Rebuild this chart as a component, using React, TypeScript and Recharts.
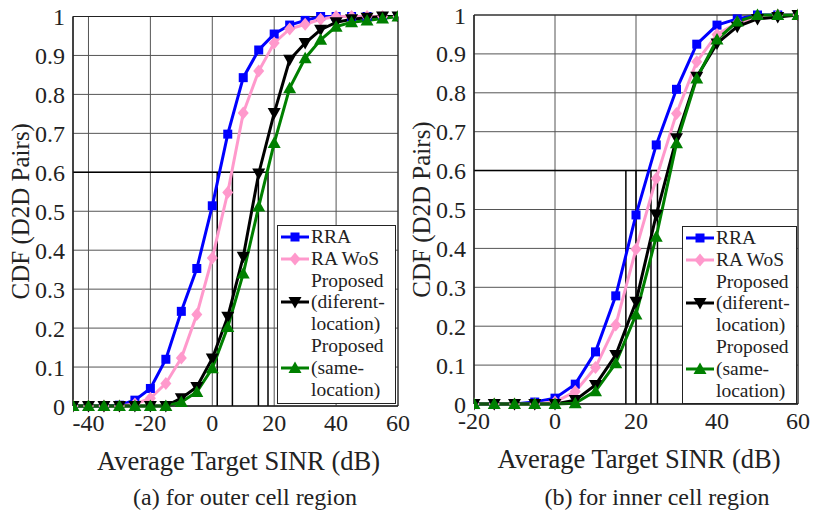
import { LineChart, Line, XAxis, YAxis, CartesianGrid, ReferenceLine, ReferenceArea, Legend } from "recharts";

// SINR sample points (dB)
const sinrOuter = [-45, -40, -35, -30, -25, -20, -15, -10, -5, 0, 5, 10, 15, 20, 25, 30, 35, 40, 45, 50, 55, 60];
const sinrInner = [-20, -15, -10, -5, 0, 5, 10, 15, 20, 25, 30, 35, 40, 45, 50, 55, 60];

// CDF values, outer cell region
const rraOuter = [0, 0, 0, 0.002, 0.015, 0.045, 0.12, 0.243, 0.353, 0.514, 0.698, 0.843, 0.914, 0.955, 0.978, 0.99, 1, 1, 1, 1, 1, 1];
const wosOuter = [0, 0, 0, 0, 0.005, 0.02, 0.058, 0.123, 0.235, 0.38, 0.548, 0.752, 0.86, 0.932, 0.968, 0.98, 0.993, 1, 1, 1, 1, 1];
const diffOuter = [0, 0, 0, 0, 0, 0, 0, 0.02, 0.049, 0.122, 0.229, 0.383, 0.597, 0.752, 0.889, 0.932, 0.966, 0.985, 0.993, 0.997, 1, 1];
const sameOuter = [0, 0, 0, 0, 0, 0, 0, 0.01, 0.036, 0.097, 0.203, 0.34, 0.512, 0.675, 0.816, 0.893, 0.94, 0.974, 0.985, 0.99, 0.995, 1];

// CDF values, inner cell region
const rraInner = [0, 0, 0, 0.005, 0.015, 0.051, 0.134, 0.278, 0.486, 0.666, 0.809, 0.925, 0.974, 0.99, 1, 1, 1];
const wosInner = [0, 0, 0, 0, 0.005, 0.032, 0.094, 0.203, 0.398, 0.58, 0.747, 0.88, 0.95, 0.98, 0.995, 1, 1];
const diffInner = [0, 0, 0, 0, 0, 0.01, 0.049, 0.126, 0.263, 0.486, 0.683, 0.841, 0.927, 0.97, 0.99, 0.995, 1];
const sameInner = [0, 0, 0, 0, 0, 0.002, 0.033, 0.105, 0.23, 0.43, 0.67, 0.837, 0.937, 0.983, 1, 1, 1];

// where each curve reaches the 0.6 level
const cdfLevel = 0.6;
const crossOuter = [1.6, 6.5, 14.9, 18.0];
const crossInner = [17.5, 20.0, 23.7, 25.3];

const cdfTicks = [0, 0.1, 0.2, 0.3, 0.4, 0.5, 0.6, 0.7, 0.8, 0.9, 1];
const ticksOuter = [-40, -20, 0, 20, 40, 60];
const ticksInner = [-20, 0, 20, 40, 60];

type Shape = "square" | "diamond" | "down" | "up";

const series: { key: string; label: string[]; color: string; shape: Shape }[] = [
  { key: "rra", label: ["RRA"], color: "#0000ff", shape: "square" },
  { key: "wos", label: ["RA WoS"], color: "#ff99cc", shape: "diamond" },
  { key: "diff", label: ["Proposed", "(diferent-", "location)"], color: "#000000", shape: "down" },
  { key: "same", label: ["Proposed", "(same-", "location)"], color: "#008000", shape: "up" },
];

const FONT = "'Liberation Serif', 'Times New Roman', serif";
const TEXT = "#222";

function Marker({ shape, cx, cy, color }: { shape: Shape; cx: number; cy: number; color: string }) {
  if (cx == null || cy == null) return null;
  switch (shape) {
    case "square":
      return <rect x={cx - 4.5} y={cy - 4.5} width={9} height={9} fill={color} />;
    case "diamond":
      return <polygon points={`${cx},${cy - 6.5} ${cx + 5.5},${cy} ${cx},${cy + 6.5} ${cx - 5.5},${cy}`} fill={color} />;
    case "down":
      return <polygon points={`${cx - 6.5},${cy - 5} ${cx + 6.5},${cy - 5} ${cx},${cy + 6.5}`} fill={color} />;
    default:
      return <polygon points={`${cx - 6.5},${cy + 5} ${cx + 6.5},${cy + 5} ${cx},${cy - 6.5}`} fill={color} />;
  }
}

function buildRows(x: number[], rra: number[], wos: number[], diff: number[], same: number[]) {
  return x.map((v, i) => ({ x: v, rra: rra[i], wos: wos[i], diff: diff[i], same: same[i] }));
}

function LegendBox() {
  return (
    <div
      style={{
        border: "1px solid #222",
        background: "#fff",
        boxSizing: "border-box",
        width: "100%",
        height: "100%",
        fontFamily: FONT,
        fontSize: 19.5,
        lineHeight: "21.8px",
        color: TEXT,
      }}
    >
      {series.map((s) =>
        s.label.map((line, i) => {
          const withMark = s.label.length === 1 ? i === 0 : i === 1;
          return (
            <div key={s.key + i} style={{ display: "flex", alignItems: "center", height: 21.8, whiteSpace: "nowrap" }}>
              <svg width={33} height={16} style={{ flex: "none" }}>
                {withMark && (
                  <>
                    <line x1={3} x2={31} y1={8} y2={8} stroke={s.color} strokeWidth={3} />
                    <Marker shape={s.shape} cx={17} cy={8} color={s.color} />
                  </>
                )}
              </svg>
              <span>{line}</span>
            </div>
          );
        })
      )}
    </div>
  );
}

function CdfPanel({
  rows,
  domain,
  ticks,
  cross,
  margin,
  legendPos,
}: {
  rows: Record<string, number>[];
  domain: [number, number];
  ticks: number[];
  cross: number[];
  margin: { top: number; right: number; bottom: number; left: number };
  legendPos: { left: number; top: number; width: number; height: number };
}) {
  const tickStyle = { fontSize: 24, fill: TEXT, fontFamily: FONT };
  return (
    <LineChart width={410} height={514} data={rows} margin={margin}>
      <CartesianGrid stroke="#555" strokeWidth={1} />
      <ReferenceArea x1={domain[0]} x2={domain[1]} y1={0} y2={1} fill="none" fillOpacity={0} stroke="#222" strokeWidth={1} />
      <XAxis
        type="number"
        dataKey="x"
        domain={domain}
        ticks={ticks}
        interval={0}
        allowDataOverflow
        tickLine={false}
        axisLine={{ stroke: "#222" }}
        tick={tickStyle}
        height={40}
        label={{ value: "Average Target SINR (dB)", position: "bottom", offset: 5, dx: 3, style: { fontSize: 26.5, fill: TEXT, fontFamily: FONT } }}
      />
      <YAxis
        type="number"
        domain={[0, 1]}
        ticks={cdfTicks}
        interval={0}
        width={73}
        tickLine={false}
        axisLine={{ stroke: "#222" }}
        tick={tickStyle}
        tickFormatter={(v: number) => (v === 0 || v === 1 ? String(v) : v.toFixed(1))}
        label={{
          value: "CDF (D2D Pairs)",
          angle: -90,
          position: "insideLeft",
          offset: 20,
          style: { fontSize: 25, fill: TEXT, fontFamily: FONT, textAnchor: "middle" },
        }}
      />
      <ReferenceLine
        segment={[
          { x: domain[0], y: cdfLevel },
          { x: cross[cross.length - 1], y: cdfLevel },
        ]}
        stroke="#000"
        strokeWidth={1.5}
      />
      {cross.map((c) => (
        <ReferenceLine
          key={c}
          segment={[
            { x: c, y: 0 },
            { x: c, y: cdfLevel },
          ]}
          stroke="#000"
          strokeWidth={1.5}
        />
      ))}
      {series.map((s) => (
        <Line
          key={s.key}
          type="linear"
          dataKey={s.key}
          stroke={s.color}
          strokeWidth={3}
          isAnimationActive={false}
          dot={(p: any) => <Marker key={`${s.key}-${p.index}`} shape={s.shape} cx={p.cx} cy={p.cy} color={s.color} />}
          activeDot={false}
        />
      ))}
      <Legend
        layout="horizontal"
        verticalAlign="middle"
        align="center"
        wrapperStyle={{ ...legendPos }}
        content={() => <LegendBox />}
      />
    </LineChart>
  );
}

export default function App() {
  const outer = buildRows(sinrOuter, rraOuter, wosOuter, diffOuter, sameOuter);
  const inner = buildRows(sinrInner, rraInner, wosInner, diffInner, sameInner);
  const caption = {
    position: "absolute" as const,
    top: 485,
    fontFamily: FONT,
    fontSize: 24,
    lineHeight: "24px",
    color: TEXT,
    whiteSpace: "nowrap" as const,
    transform: "translateX(-50%)",
  };
  return (
    <div style={{ position: "fixed", left: 0, top: 0, width: 813, height: 514, background: "#fff", overflow: "hidden" }}>
      <div style={{ position: "absolute", left: 0, top: 0 }}>
        <CdfPanel
          rows={outer}
          domain={[-45, 60]}
          ticks={ticksOuter}
          cross={crossOuter}
          margin={{ top: 16.5, right: 12, bottom: 68, left: 0 }}
          legendPos={{ left: 277, top: 225, width: 119, height: 179 }}
        />
      </div>
      <div style={{ position: "absolute", left: 401, top: 0 }}>
        <CdfPanel
          rows={inner}
          domain={[-20, 60]}
          ticks={ticksInner}
          cross={crossInner}
          margin={{ top: 15, right: 13, bottom: 70, left: 0 }}
          legendPos={{ left: 281, top: 226, width: 115, height: 178 }}
        />
      </div>
      <div style={{ ...caption, left: 245 }}>(a) for outer cell region</div>
      <div style={{ ...caption, left: 657 }}>(b) for inner cell region</div>
    </div>
  );
}
